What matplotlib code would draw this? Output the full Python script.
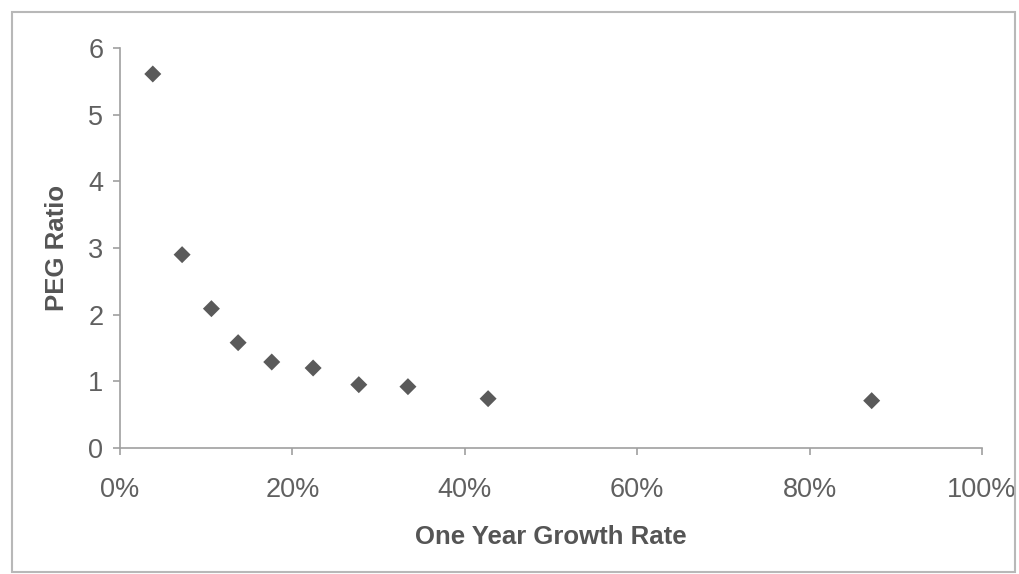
import matplotlib.pyplot as plt
from matplotlib.patches import Rectangle
from matplotlib.ticker import PercentFormatter

# one year growth rate (%) and PEG ratio
growth = [3.8, 7.2, 10.6, 13.7, 17.6, 22.4, 27.7, 33.4, 42.7, 87.2]
peg = [5.61, 2.90, 2.09, 1.58, 1.29, 1.20, 0.95, 0.92, 0.74, 0.71]
x_ticks = [0, 20, 40, 60, 80, 100]
y_ticks = [0, 1, 2, 3, 4, 5, 6]

plt.rcParams['font.family'] = ['Liberation Sans', 'DejaVu Sans']

fig = plt.figure(figsize=(10.19, 5.74), dpi=100)
# outer frame around the chart
fig.patches.append(Rectangle((12 / 1019, 2 / 574), 1003 / 1019, 560 / 574,
                             transform=fig.transFigure, fill=False,
                             edgecolor='#b8b8b8', linewidth=1.5))
ax = fig.add_axes([0.1178, 0.2195, 0.8459, 0.6969])

ax.scatter(growth, peg, marker='D', s=75, color='#5a5a5a', edgecolors='none')

ax.set_xlim(0, 100)
ax.set_ylim(0, 6)
ax.set_xticks(x_ticks)
ax.set_yticks(y_ticks)
ax.xaxis.set_major_formatter(PercentFormatter(decimals=0))

for s in ['top', 'right']:
    ax.spines[s].set_visible(False)
for s in ['left', 'bottom']:
    ax.spines[s].set_color('#a0a0a0')
    ax.spines[s].set_linewidth(1.2)
ax.tick_params(colors='#a0a0a0', labelcolor='#606060', labelsize=19.5, length=5, width=1.2)
ax.tick_params(axis='x', pad=16)
ax.tick_params(axis='y', pad=7)

ax.set_xlabel('One Year Growth Rate', fontsize=18.5, fontweight='bold', color='#555555', labelpad=16)
ax.set_ylabel('PEG Ratio', fontsize=18.5, fontweight='bold', color='#555555', labelpad=14)

plt.savefig('out.png', dpi=100)
